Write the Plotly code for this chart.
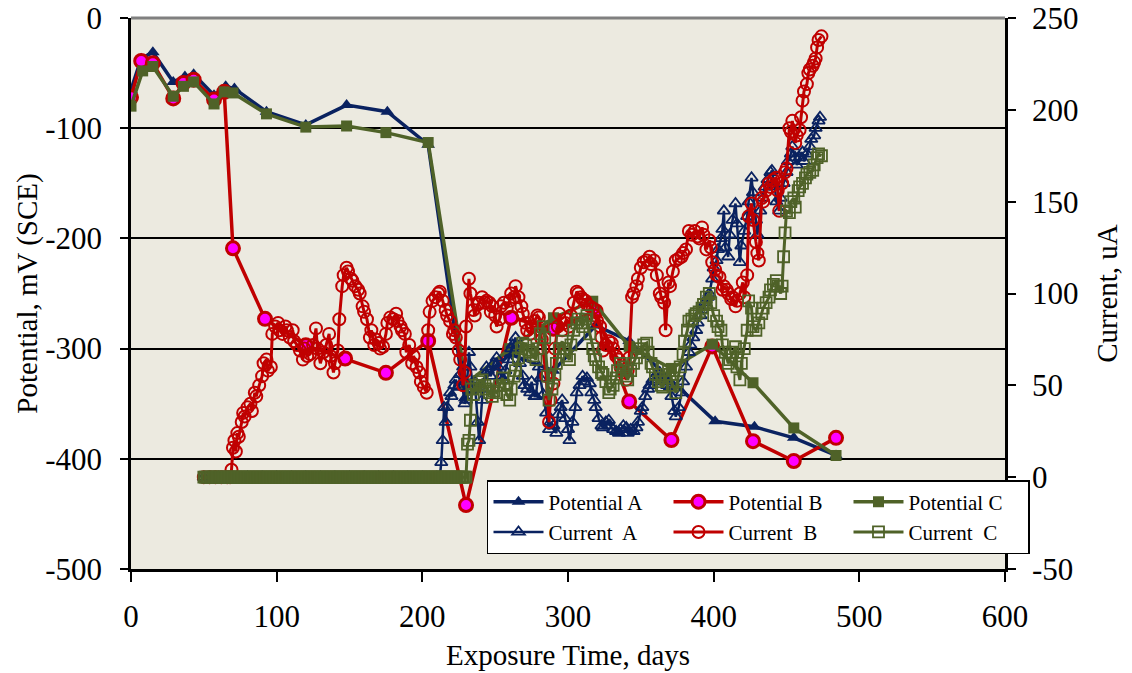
import plotly.graph_objects as go

# ---- Potential readings (mV vs SCE), left axis ----
pot_a_days = [0, 7, 15, 29, 37, 43, 57, 65, 71, 93, 120, 148, 176, 204, 229, 260, 290, 319, 342, 401, 428, 455, 484]
pot_a_mv = [-65, -37, -31, -58, -53, -51, -70, -62, -64, -85, -97, -79, -85, -115, -345, -305, -320, -279, -293, -366, -371, -381, -397]

pot_b_days = [0, 7, 15, 29, 36, 43, 57, 64, 70, 92, 120, 147, 175, 204, 230, 261, 290, 319, 342, 371, 399, 427, 455, 484]
pot_b_mv = [-72, -39, -41, -73, -59, -56, -74, -67, -209, -273, -297, -309, -322, -293, -442, -272, -282, -266, -348, -383, -298, -384, -402, -381]

pot_c_days = [0, 8, 15, 29, 36, 43, 57, 64, 70, 93, 120, 148, 175, 204, 230, 260, 290, 317, 342, 371, 399, 427, 455, 484]
pot_c_mv = [-80, -48, -44, -71, -62, -58, -78, -67, -68, -87, -99, -98, -104, -113, -332, -300, -272, -257, -298, -318, -296, -331, -372, -397]

# ---- Macrocell current readings (uA), right axis ----
cur_a_days = [50, 60, 70, 80, 90, 100, 110, 120, 130, 140, 150, 160, 170, 180, 190, 200, 210, 212,
              213, 214, 215, 216, 217, 219, 220, 222, 223, 225, 226, 228, 229, 230, 232, 233, 235, 236, 238, 239,
              241, 242, 244, 245, 247, 249, 251, 252, 254, 255, 257, 259, 261, 262, 264, 265, 267, 269, 270, 272,
              274, 275, 277, 278, 280, 281, 283, 285, 287, 288, 290, 292, 293, 295, 296, 298, 300, 301, 303, 305,
              306, 308, 310, 311, 313, 315, 316, 318, 319, 321, 323, 324, 326, 328, 329, 331, 333, 335, 336, 338,
              340, 341, 343, 345, 347, 348, 350, 351, 353, 355, 356, 358, 360, 361, 363, 364, 366, 368, 370, 371,
              373, 374, 376, 378, 379, 381, 383, 384, 386, 388, 389, 391, 392, 394, 396, 397, 399, 400, 402, 403,
              405, 406, 407, 408, 410, 411, 413, 415, 416, 418, 419, 421, 423, 424, 426, 427, 429, 430, 432, 434,
              435, 437, 439, 440, 442, 443, 445, 446, 448, 450, 451, 453, 454, 456, 457, 459, 461, 462, 464, 466,
              467, 469, 470, 472, 473]
cur_a_ua = [0, 0, 0, 0, 0, 0, 0, 0, 0, 0, 0, 0, 0, 0, 0, 0, 0, 0,
             8, 20, 38, 30, 38, 46, 44, 50, 53, 49, 56, 60, 40, 42, 68, 60, 48, 52, 30, 20,
             42, 48, 60, 58, 55, 62, 65, 60, 55, 53, 58, 64, 70, 72, 76, 70, 62, 55, 50, 48,
             46, 52, 44, 44, 60, 54, 45, 35, 26, 30, 28, 24, 34, 38, 42, 32, 26, 20, 30, 38,
             46, 50, 55, 52, 54, 51, 46, 42, 38, 32, 28, 27, 30, 31, 28, 26, 25, 24, 26, 28,
             27, 24, 26, 25, 27, 30, 36, 38, 44, 48, 50, 53, 55, 52, 57, 54, 52, 50, 49, 44,
             36, 33, 38, 46, 52, 60, 68, 72, 76, 80, 84, 88, 91, 95, 98, 100, 108, 114, 118, 124,
             130, 135, 145, 125, 120, 132, 140, 149, 138, 117, 126, 134, 142, 150, 163, 155, 140, 132, 145, 152,
             158, 162, 166, 167, 158, 150, 145, 152, 160, 166, 172, 176, 180, 174, 170, 174, 177, 172, 176, 180,
             184, 186, 190, 194, 196]

cur_b_days = [50, 54, 58, 62, 66, 68,
              69, 70, 71, 72, 73, 74, 76, 77, 78, 80, 82, 83, 85, 86, 88, 90, 91, 93, 94, 96, 97, 99,
              101, 102, 104, 106, 107, 109, 111, 112, 114, 116, 118, 119, 121, 123, 125, 127, 128, 130, 132, 134,
              136, 137, 139, 140, 142, 143, 145, 146, 148, 149, 151, 152, 154, 156, 157, 159, 160, 162, 164, 165,
              167, 168, 170, 171, 173, 175, 176, 178, 180, 182, 183, 185, 186, 188, 189, 191, 193, 194, 196, 198,
              199, 201, 203, 204, 205, 207, 209, 211, 212, 214, 216, 217, 219, 221, 222, 223, 225, 226, 228, 229,
              230, 232, 233, 235, 236, 238, 239, 241, 243, 244, 246, 247, 248, 250, 251, 253, 254, 256, 258, 260,
              261, 263, 264, 266, 268, 269, 271, 272, 274, 275, 277, 279, 280, 282, 283, 285, 287, 288, 290, 291,
              293, 294, 296, 298, 299, 301, 302, 304, 306, 307, 309, 310, 312, 313, 315, 317, 318, 320, 322, 323,
              324, 326, 328, 330, 331, 333, 335, 336, 338, 340, 341, 342, 344, 345, 347, 348, 350, 352, 354, 356,
              357, 359, 361, 363, 364, 366, 367, 369, 370, 372, 374, 376, 378, 379, 381, 383, 385, 387, 389, 390,
              392, 393, 395, 397, 398, 399, 401, 402, 404, 406, 407, 409, 410, 412, 413, 415, 416, 418, 420, 421,
              423, 424, 426, 427, 429, 430, 431, 433, 434, 436, 438, 439, 441, 443, 444, 445, 447, 449, 450, 452,
              453, 454, 456, 457, 459, 460, 461, 462, 464, 465, 466, 468, 469, 470, 471, 472, 474]
cur_b_ua = [0, 0, 0, 0, 0, 0,
            4, 16, 20, 14, 24, 22, 30, 35, 33, 38, 40, 36, 46, 44, 50, 55, 62, 64, 58, 60, 78, 82,
            84, 80, 78, 82, 80, 76, 80, 74, 72, 69, 64, 70, 66, 67, 72, 81, 70, 62, 68, 72,
            78, 66, 57, 62, 69, 86, 104, 110, 114, 112, 108, 107, 104, 102, 100, 93, 90, 86, 76, 80,
            72, 75, 73, 70, 71, 78, 84, 87, 86, 89, 85, 82, 80, 78, 68, 72, 62, 66, 60, 57,
            52, 49, 46, 80, 90, 96, 98, 100, 101, 96, 91, 88, 85, 78, 80, 76, 69, 64, 50, 57,
            82, 108, 100, 91, 88, 94, 95, 98, 95, 96, 95, 90, 93, 88, 82, 86, 93, 95, 92, 96,
            100, 98, 104, 98, 93, 89, 84, 80, 78, 82, 85, 88, 87, 75, 70, 55, 30, 42, 51, 70,
            82, 89, 80, 84, 86, 82, 88, 95, 101, 100, 98, 97, 96, 94, 93, 92, 88, 85, 82, 76,
            69, 72, 74, 73, 70, 66, 64, 60, 57, 53, 58, 65, 98, 100, 104, 108, 114, 117, 118, 120,
            116, 118, 110, 100, 98, 95, 80, 106, 104, 112, 118, 119, 120, 122, 124, 134, 132, 134, 131, 130,
            136, 132, 124, 129, 125, 117, 113, 110, 109, 102, 104, 102, 100, 97, 98, 93, 96, 100, 106, 98,
            110, 142, 149, 140, 128, 122, 118, 152, 150, 156, 160, 158, 162, 163, 156, 145, 160, 166, 168, 190,
            188, 194, 182, 186, 189, 196, 205, 210, 214, 220, 222, 224, 226, 228, 234, 238, 240]

cur_c_days = [50, 51, 52, 53, 54, 55, 56, 57, 58, 59, 60, 61, 62, 63, 64, 65, 66, 67, 68, 69,
              70, 71, 72, 73, 74, 75, 76, 77, 78, 79, 80, 81, 82, 83, 84, 85, 86, 87, 88, 89,
              90, 91, 92, 93, 94, 95, 96, 97, 98, 99, 100, 101, 102, 103, 104, 105, 106, 107, 108, 109,
              110, 111, 112, 113, 114, 115, 116, 117, 118, 119, 120, 121, 122, 123, 124, 125, 126, 127, 128, 129,
              130, 131, 132, 133, 134, 135, 136, 137, 138, 139, 140, 141, 142, 143, 144, 145, 146, 147, 148, 149,
              150, 151, 152, 153, 154, 155, 156, 157, 158, 159, 160, 161, 162, 163, 164, 165, 166, 167, 168, 169,
              170, 171, 172, 173, 174, 175, 176, 177, 178, 179, 180, 181, 182, 183, 184, 185, 186, 187, 188, 189,
              190, 191, 192, 193, 194, 195, 196, 197, 198, 199, 200, 201, 202, 203, 204, 205, 206, 207, 208, 209,
              210, 211, 212, 213, 214, 215, 216, 217, 218, 219, 220, 221, 222, 223, 224, 225, 226, 227, 228, 229,
              230,
              231, 232, 233, 234, 235, 237, 239, 241, 243, 244, 246, 248, 249, 251, 253, 255, 256, 258, 260, 261,
              263, 264, 266, 268, 269, 271, 273, 274, 276, 278, 279, 281, 283, 284, 286, 287, 289, 291, 292, 294,
              296, 297, 299, 301, 302, 304, 306, 307, 309, 310, 312, 313, 315, 317, 318, 319, 321, 323, 324, 326,
              328, 329, 331, 333, 334, 336, 338, 340, 341, 343, 345, 347, 348, 350, 352, 354, 355, 357, 358, 360,
              362, 364, 365, 367, 369, 370, 372, 374, 375, 377, 379, 380, 382, 383, 385, 387, 388, 390, 392, 393,
              395, 397, 398, 400, 402, 403, 405, 406, 408, 410, 411, 413, 415, 416, 418, 419, 421, 423, 424, 426,
              427, 429, 431, 433, 434, 436, 438, 439, 441, 443, 444, 446, 447, 448, 449, 450, 452, 453, 455, 456,
              458, 459, 461, 463, 464, 466, 468, 469, 471, 472, 474]
cur_c_ua = [0, 0, 0, 0, 0, 0, 0, 0, 0, 0, 0, 0, 0, 0, 0, 0, 0, 0, 0, 0,
            0, 0, 0, 0, 0, 0, 0, 0, 0, 0, 0, 0, 0, 0, 0, 0, 0, 0, 0, 0,
            0, 0, 0, 0, 0, 0, 0, 0, 0, 0, 0, 0, 0, 0, 0, 0, 0, 0, 0, 0,
            0, 0, 0, 0, 0, 0, 0, 0, 0, 0, 0, 0, 0, 0, 0, 0, 0, 0, 0, 0,
            0, 0, 0, 0, 0, 0, 0, 0, 0, 0, 0, 0, 0, 0, 0, 0, 0, 0, 0, 0,
            0, 0, 0, 0, 0, 0, 0, 0, 0, 0, 0, 0, 0, 0, 0, 0, 0, 0, 0, 0,
            0, 0, 0, 0, 0, 0, 0, 0, 0, 0, 0, 0, 0, 0, 0, 0, 0, 0, 0, 0,
            0, 0, 0, 0, 0, 0, 0, 0, 0, 0, 0, 0, 0, 0, 0, 0, 0, 0, 0, 0,
            0, 0, 0, 0, 0, 0, 0, 0, 0, 0, 0, 0, 0, 0, 0, 0, 0, 0, 0, 0,
            0,
            18, 20, 31, 48, 45, 50, 52, 53, 50, 48, 46, 44, 47, 46, 50, 54, 50, 45, 42, 48,
            55, 58, 65, 70, 73, 72, 69, 68, 66, 64, 70, 78, 82, 76, 55, 42, 48, 56, 62, 70,
            74, 70, 66, 64, 72, 80, 84, 86, 84, 82, 86, 88, 78, 70, 66, 64, 60, 57, 56, 52,
            46, 48, 50, 54, 58, 62, 60, 55, 53, 58, 62, 65, 68, 70, 72, 73, 68, 62, 60, 56,
            52, 50, 49, 54, 58, 56, 50, 46, 52, 60, 67, 74, 80, 85, 86, 88, 89, 90, 92, 94,
            98, 100, 95, 88, 85, 82, 80, 72, 68, 62, 64, 68, 71, 60, 53, 62, 70, 80, 96, 92,
            82, 80, 84, 89, 92, 95, 98, 102, 105, 107, 104, 100, 104, 120, 133, 145, 144, 150, 152, 147,
            156, 158, 160, 163, 165, 166, 167, 170, 174, 176, 175]

# Axis tick values and their printed labels (plain hyphen for negatives)
pot_ticks = [-500, -400, -300, -200, -100, 0]
pot_tick_text = ["-500", "-400", "-300", "-200", "-100", "0"]
cur_ticks = [-50, 0, 50, 100, 150, 200, 250]
cur_tick_text = ["-50", "0", "50", "100", "150", "200", "250"]

NAVY = "#0A2260"
RED = "#C00000"
OLIVE = "#4F6228"
MAGENTA = "#FF00FF"
FONT = "Liberation Serif"

fig = go.Figure()

fig.add_trace(go.Scatter(
    x=pot_a_days, y=pot_a_mv, name="Potential A", mode="lines+markers",
    line=dict(color=NAVY, width=3.5),
    marker=dict(symbol="triangle-up", size=12, color=NAVY)))
fig.add_trace(go.Scatter(
    x=pot_b_days, y=pot_b_mv, name="Potential B", mode="lines+markers",
    line=dict(color=RED, width=3.5),
    marker=dict(symbol="circle", size=13, color=MAGENTA, line=dict(color=RED, width=3))))
fig.add_trace(go.Scatter(
    x=pot_c_days, y=pot_c_mv, name="Potential C", mode="lines+markers",
    line=dict(color=OLIVE, width=3.5),
    marker=dict(symbol="square", size=11, color=OLIVE)))

fig.add_trace(go.Scatter(
    x=cur_a_days, y=cur_a_ua, name="Current  A", mode="lines+markers", yaxis="y2",
    line=dict(color=NAVY, width=2.5),
    marker=dict(symbol="triangle-up-open", size=11, color=NAVY, line=dict(width=1.8))))
fig.add_trace(go.Scatter(
    x=cur_b_days, y=cur_b_ua, name="Current  B", mode="lines+markers", yaxis="y2",
    line=dict(color=RED, width=3),
    marker=dict(symbol="circle-open", size=12, color=RED, line=dict(width=2))))
fig.add_trace(go.Scatter(
    x=cur_c_days, y=cur_c_ua, name="Current  C", mode="lines+markers", yaxis="y2",
    line=dict(color=OLIVE, width=3),
    marker=dict(symbol="square-open", size=11, color=OLIVE, line=dict(width=1.8))))

tick_font = dict(family=FONT, size=31, color="black")
title_font = dict(family=FONT, size=29, color="black")

fig.update_layout(
    width=1132, height=673,
    margin=dict(l=131, r=127, t=18, b=104, autoexpand=False),
    paper_bgcolor="white",
    plot_bgcolor="#ECEAE0",
    showlegend=True,
    legend=dict(
        orientation="h", x=1.0286, xanchor="right", y=0.1615, yanchor="top",
        bgcolor="white", bordercolor="black", borderwidth=1.5,
        font=dict(family=FONT, size=21, color="black"),
        itemwidth=50, entrywidth=115, tracegroupgap=0,
    ),
    xaxis=dict(
        range=[0, 600], dtick=100, showgrid=False, zeroline=False,
        showline=True, linecolor="black", linewidth=2.5,
        ticks="outside", ticklen=10, tickwidth=2, tickcolor="black",
        tickfont=tick_font, ticklabelstandoff=8,
        title=dict(text="Exposure Time, days", font=title_font, standoff=12),
    ),
    yaxis=dict(
        range=[-500, 0], tickvals=pot_ticks, ticktext=pot_tick_text,
        showgrid=True, gridcolor="black", gridwidth=2,
        zeroline=False, showline=True, linecolor="black", linewidth=2.5,
        ticks="outside", ticklen=8, tickwidth=2, tickcolor="black",
        tickfont=tick_font, ticklabelstandoff=12,
        title=dict(text="Potential, mV (SCE)", font=title_font, standoff=0),
    ),
    yaxis2=dict(
        range=[-50, 250], tickvals=cur_ticks, ticktext=cur_tick_text,
        overlaying="y", side="right", anchor="x",
        showgrid=False, zeroline=False, showline=True, linecolor="black", linewidth=2.5,
        ticks="outside", ticklen=8, tickwidth=2, tickcolor="black",
        tickfont=tick_font, ticklabelstandoff=10,
        title=dict(text="Current, uA", font=title_font, standoff=20),
    ),
    shapes=[
        dict(type="line", xref="paper", yref="paper", x0=0, x1=1, y0=1, y1=1,
             line=dict(color="#808080", width=3)),
    ],
)

fig.write_html("out.html")
